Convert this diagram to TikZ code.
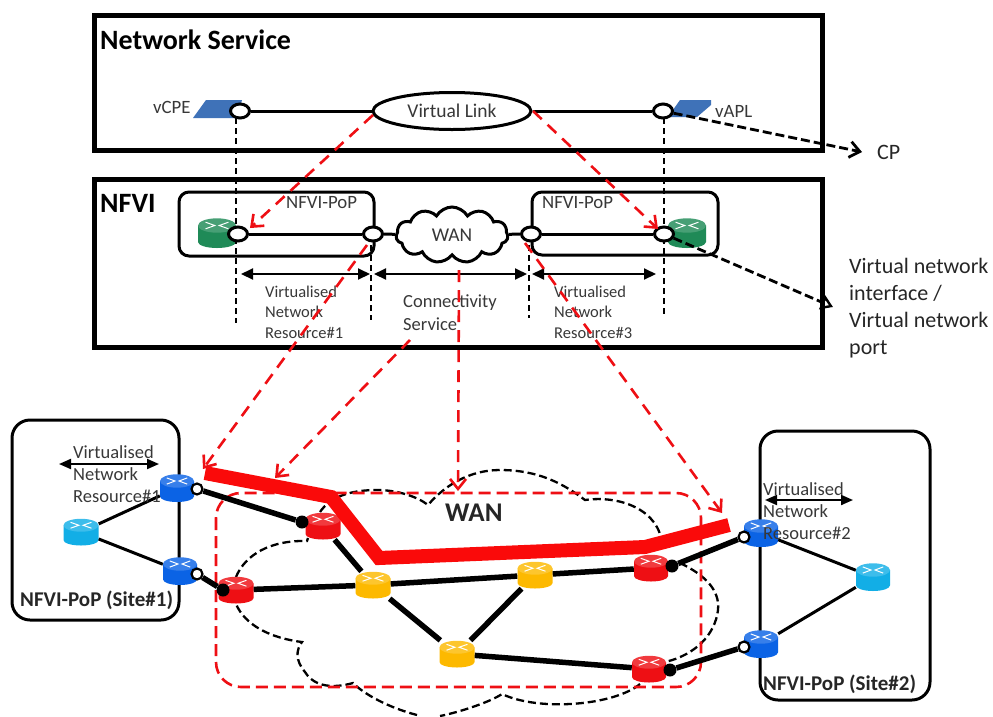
\documentclass[tikz,border=0pt]{standalone}
\usepackage{fontspec}
\setmainfont{Carlito}
\usetikzlibrary{arrows.meta,shapes.geometric,shapes.symbols}
\definecolor{rblue}{HTML}{0B63E5}
\definecolor{rcyan}{HTML}{12AEE6}
\definecolor{rred}{HTML}{EE0F14}
\definecolor{pathred}{HTML}{FA0A0A}
\definecolor{ryellow}{HTML}{FDB900}
\definecolor{rgreen}{HTML}{1F8A57}
\definecolor{vnf}{HTML}{3F72B8}
\definecolor{lbl}{HTML}{383838}
\tikzset{
  bigbox/.style={draw=black,line width=5pt,rectangle,inner sep=0},
  popbox/.style={draw=black,line width=3pt,rounded corners=10pt},
  sitebox/.style={draw=black,line width=3pt,rounded corners=18pt},
  port/.style={ellipse,draw=black,line width=3pt,fill=white,minimum width=19pt,minimum height=14pt,inner sep=0},
  wport/.style={circle,draw=black,line width=2.2pt,fill=white,minimum size=11pt,inner sep=0},
  bport/.style={circle,fill=black,minimum size=13pt,inner sep=0},
  link/.style={draw=black,line width=3pt},
  thick link/.style={draw=black,line width=5.5pt},
  thin link/.style={draw=black,line width=3pt},
  guide/.style={draw=black,line width=2pt,dash pattern=on 6pt off 4pt},
  span/.style={draw=black,line width=2pt,{Triangle[width=11pt,length=12pt]}-{Triangle[width=11pt,length=12pt]}},
  redarrow/.style={draw=rred,line width=2.6pt,dash pattern=on 12pt off 8pt,-{Straight Barb[length=10pt,width=16pt,line width=2.6pt]}},
  callout/.style={draw=black,line width=2.8pt,dash pattern=on 9pt off 4pt},
  small/.style={font=\fontsize{16.5}{20.5}\selectfont,text=lbl,anchor=west,align=left,inner sep=0},
  mid/.style={font=\fontsize{18.8}{20}\selectfont,text=lbl,anchor=center,inner sep=0},
  big/.style={font=\fontsize{22}{27}\selectfont,text=black!85,anchor=west,align=left,inner sep=0},
  heading/.style={font=\bfseries\fontsize{28}{30}\selectfont,anchor=west,inner sep=0},
  sitehead/.style={font=\bfseries\fontsize{21}{22}\selectfont,text=black!85,anchor=west,inner sep=0},
}
\newcommand{\router}[5]{%
  \node[inner sep=0,minimum width=#4pt,minimum height=#5pt] (#1) at (#2) {};
  \begin{scope}[shift={(#1.center)},x=#4*0.5pt,y=#5*0.5pt]
    \fill[#3] (-1,.5) -- (-1,-.6) arc[start angle=180,end angle=360,x radius=1,y radius=.4] -- (1,.5) -- cycle;
    \fill[#3!82!white] (0,.5) ellipse[x radius=1,y radius=.48];
    \draw[white,line width=1pt] (-.6,.72) -- (-.12,.5) -- (-.6,.28) (.6,.72) -- (.12,.5) -- (.6,.28);
  \end{scope}}
\begin{document}
\begin{tikzpicture}[x=1pt,y=-1pt]
\useasboundingbox (0,0) rectangle (993,716);
% frames
\draw[bigbox] (94,15) rectangle (822,150);
\draw[bigbox] (94,179) rectangle (822,347);
\node[heading] (tns) at (100,40) {Network Service};
\node[heading] (tnfvi) at (100,203) {NFVI};
% VNFs
\fill[vnf] (193,118) -- (206,100) -- (242,100) -- (237,118) -- cycle;
\fill[vnf] (668,117) -- (680,100) -- (711,100) -- (711,105) -- (697,117) -- cycle;
\node[mid,anchor=west] (lcpe) at (153,107) {vCPE};
\node[mid,anchor=west] (lapl) at (715,111) {vAPL};
% NFVI-PoP boxes
\draw[popbox] (179,192) rectangle (374,256);
\draw[popbox] (532,192) rectangle (718,255);
\node[mid,anchor=west] (lpop1) at (286,203) {NFVI-PoP};
\node[mid,anchor=west] (lpop2) at (542,203) {NFVI-PoP};
\router{g1}{217,233}{rgreen}{38}{30}
\router{g2}{687,233}{rgreen}{38}{30}
% guides
\coordinate (g1a) at (236,118); \coordinate (g1b) at (236,323);
\coordinate (g2a) at (664,118); \coordinate (g2b) at (664,316);
\coordinate (g3a) at (371,245); \coordinate (g3b) at (371,320);
\coordinate (g4a) at (529,245); \coordinate (g4b) at (529,318);
\draw[guide] (g1a) -- (g1b);
\draw[guide] (g2a) -- (g2b);
\draw[guide] (g3a) -- (g3b);
\draw[guide] (g4a) -- (g4b);
% upper nodes
\node[ellipse,draw=black,line width=3pt,fill=white,minimum width=158pt,minimum height=37pt,inner sep=0,font=\fontsize{19.5}{20}\selectfont,text=lbl] (vl) at (452,111) {Virtual Link};
\node[port] (pa) at (240,111) {};
\node[port] (pb) at (663,111) {};
\draw[link] (pa) -- (vl);
\draw[link] (vl) -- (pb);
\node[cloud,draw=black,line width=3pt,fill=white,cloud puffs=11,cloud puff arc=120,aspect=2,minimum width=112pt,minimum height=56pt,inner sep=0,font=\fontsize{19.5}{20}\selectfont,text=lbl] (wan) at (452,235) {WAN};
\node[port] (p1) at (238,234) {};
\node[port] (p2) at (373,234) {};
\node[port] (p3) at (531,234) {};
\node[port] (p4) at (664,234) {};
\draw[link] (p1) -- (p2);
\draw[link] (p2) -- (wan);
\draw[link] (wan) -- (p3);
\draw[link] (p3) -- (p4);
% spans
\coordinate (s1) at (241,274); \coordinate (s2) at (370,274);
\coordinate (s3) at (374,274); \coordinate (s4) at (527,274);
\coordinate (s5) at (532,274); \coordinate (s6) at (656,274);
\draw[span] (s1) -- (s2);
\draw[span] (s3) -- (s4);
\draw[span] (s5) -- (s6);
\node[small] (lv1) at (265,312) {Virtualised\\Network\\Resource\#1};
\node[small,font=\fontsize{18.5}{23}\selectfont] (lcs) at (403,312.5) {Connectivity\\Service};
\node[small] (lv3) at (554,312) {Virtualised\\Network\\Resource\#3};
% callouts
\node[big] (lcp) at (877,152) {CP};
\node[big] (lvn) at (849,308) {Virtual network\\interface /\\Virtual network\\port};
\coordinate (cpt) at (862,152);
\coordinate (vnt) at (833,307);
\draw[callout,-{Straight Barb[length=10pt,width=16pt,line width=2.8pt]}] (pb) -- (cpt);
\draw[callout,-{Triangle[open,length=12pt,width=15pt,line width=2.4pt]}] (p4) -- (vnt);
% sites
\draw[sitebox] (12,420) rectangle (179,620);
\draw[sitebox] (760,431) rectangle (930,700);
\node[sitehead] (ls1) at (20,600) {NFVI-PoP (Site\#1)};
\node[sitehead] (ls2) at (763,684) {NFVI-PoP (Site\#2)};
% cloud
\draw[black,line width=2.3pt,dash pattern=on 8pt off 4pt]
 (320,512) .. controls (330,497) and (350,490) .. (377,490)
 .. controls (398,490) and (418,497) .. (428,505)
 .. controls (445,485) and (470,470) .. (500,470)
 .. controls (540,470) and (565,485) .. (585,500)
 .. controls (620,495) and (660,510) .. (662,545)
 (680,563) .. controls (705,575) and (720,590) .. (718,610)
 .. controls (715,635) and (695,655) .. (665,662)
 (640,684) .. controls (615,705) and (540,712) .. (502,694)
 .. controls (490,702) and (460,712) .. (440,716)
 (417,715) .. controls (390,708) and (365,695) .. (353,683)
 .. controls (335,688) and (315,688) .. (305,672)
 .. controls (295,660) and (296,650) .. (302,642)
 .. controls (270,638) and (245,625) .. (236,604)
 (236,577) .. controls (245,555) and (270,540) .. (307,541) -- (308,538);
% red frame
\draw[rred,line width=2.6pt,dash pattern=on 12pt off 6pt,rounded corners=25pt] (216,493) rectangle (701,687);
% routers
\router{b1}{177,488}{rblue}{34}{28}
\router{b2}{180,571}{rblue}{34}{28}
\router{c1}{81,532}{rcyan}{35}{27}
\router{r1}{323,526}{rred}{35}{27}
\router{r2}{236,590}{rred}{35}{27}
\router{y1}{373,585}{ryellow}{35}{27}
\router{y2}{535,575}{ryellow}{35}{27}
\router{y3}{457,654}{ryellow}{35}{27}
\router{r3}{651,568}{rred}{34}{27}
\router{r4}{649,669}{rred}{34}{27}
\router{b3}{761,533}{rblue}{34}{28}
\router{b4}{761,644}{rblue}{34}{28}
\router{c2}{873,577}{rcyan}{34}{28}
% ports
\node[bport] (d1) at (302,522) {};
\node[bport] (d2) at (223,590) {};
\node[bport] (d3) at (672,566) {};
\node[bport] (d4) at (670,670) {};
\node[wport] (w1) at (197,489) {};
\node[wport] (w2) at (197,574) {};
\node[wport] (w3) at (744,537) {};
\node[wport] (w4) at (744,647) {};
% links
\draw[thin link] (c1) -- (b1);
\draw[thin link] (c1) -- (b2);
\draw[thin link] (c2) -- (b3);
\draw[thin link] (c2) -- (b4);
\draw[thick link] (w1) -- (d1);
\draw[thick link] (w2) -- (d2);
\draw[thick link] (d3) -- (w3);
\draw[thick link] (d4) -- (w4);
\draw[thick link] (r1) -- (y1);
\draw[thick link] (r2) -- (y1);
\draw[thick link] (y1) -- (y2);
\draw[thick link] (y2) -- (r3);
\draw[thick link] (y1) -- (y3);
\draw[thick link] (y3) -- (y2);
\draw[thick link] (y3) -- (r4);
% path in red
\coordinate (t1) at (205,473); \coordinate (t2) at (331,497);
\coordinate (t3) at (379,558); \coordinate (t4) at (645,547);
\coordinate (t5) at (729,525);
\draw[pathred,line width=14pt,line join=miter] (t1) -- (t2) -- (t3) -- (t4) -- (t5);
% bottom labels
\node[big,font=\bfseries\fontsize{27}{28}\selectfont] (lwan) at (445,513) {WAN};
\coordinate (a1) at (59,464); \coordinate (a2) at (159,464);
\coordinate (a3) at (765,500); \coordinate (a4) at (853,500);
\draw[span,{Triangle[width=10pt,length=12pt]}-{Triangle[width=10pt,length=12pt]}] (a1) -- (a2);
\draw[span,{Triangle[width=10pt,length=12pt]}-{Triangle[width=10pt,length=12pt]}] (a3) -- (a4);
\node[small,font=\fontsize{18.5}{22}\selectfont] (lv4) at (73,474) {Virtualised\\Network\\Resource\#1};
\node[small,font=\fontsize{18.5}{22}\selectfont] (lv5) at (763,511) {Virtualised\\Network\\Resource\#2};
% red dashed mappings
\coordinate (m1a) at (373,115); \coordinate (m1b) at (250,228);
\coordinate (m2a) at (533,111); \coordinate (m2b) at (658,229);
\coordinate (m3a) at (367,245); \coordinate (m3b) at (203,469);
\coordinate (m4a) at (410,340); \coordinate (m4b) at (275,478);
\coordinate (m5a) at (459,270); \coordinate (m5b) at (458,491);
\coordinate (m6a) at (525,243); \coordinate (m6b) at (722,513);
\draw[redarrow] (m1a) -- (m1b);
\draw[redarrow] (m2a) -- (m2b);
\draw[redarrow] (m3a) -- (m3b);
\draw[redarrow] (m4a) -- (m4b);
\draw[redarrow] (m5a) -- (m5b);
\draw[redarrow] (m6a) -- (m6b);
\end{tikzpicture}
\end{document}
